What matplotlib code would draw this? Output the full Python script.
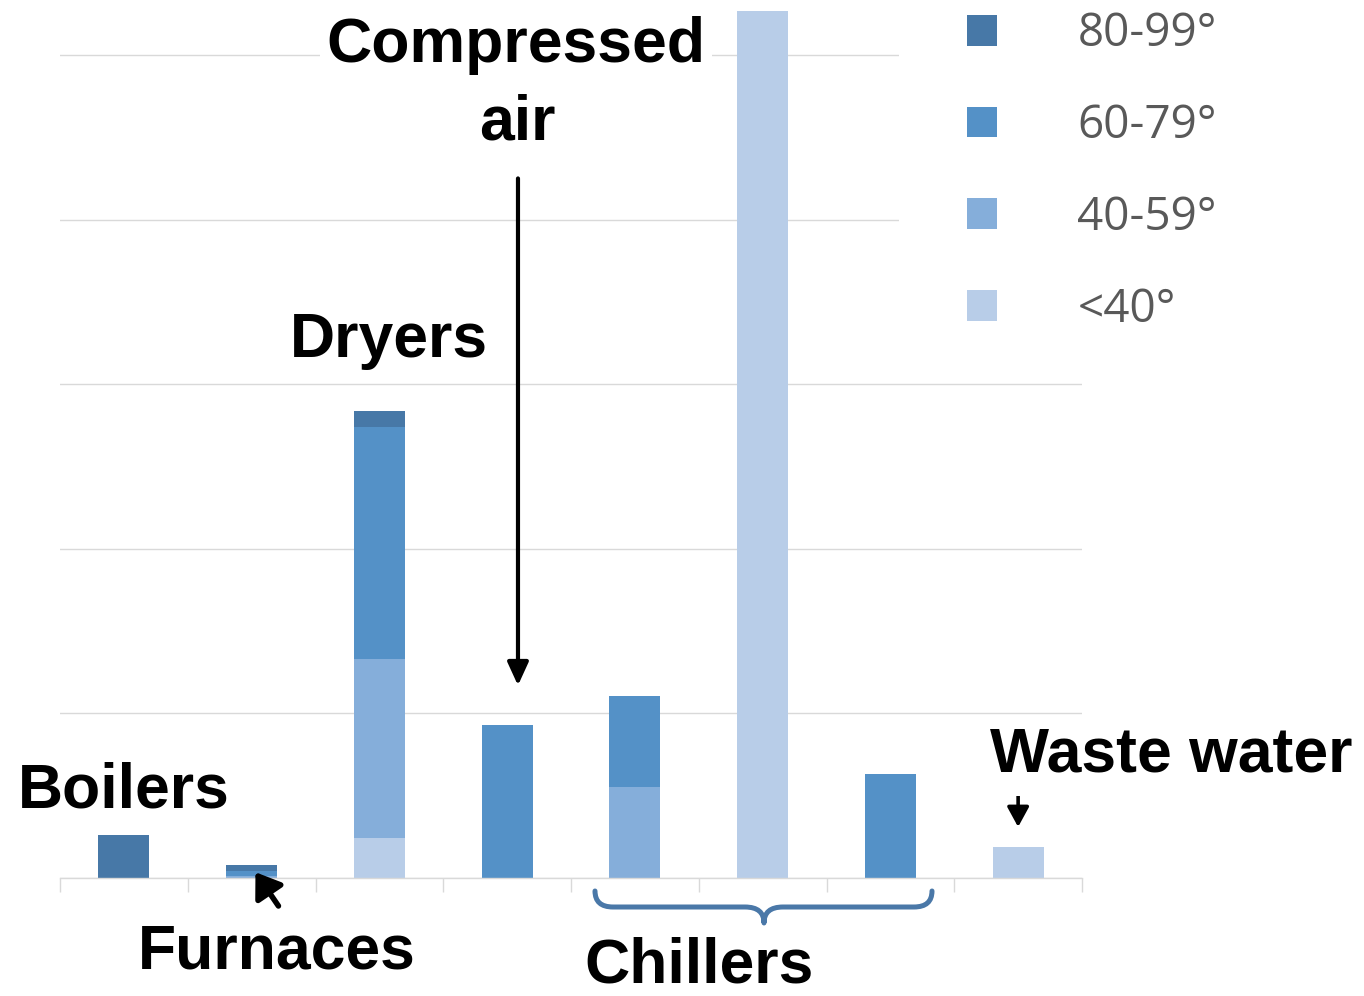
import matplotlib
matplotlib.use("Agg")
import matplotlib.pyplot as plt
from matplotlib.path import Path
from matplotlib.patches import PathPatch, Rectangle
import numpy as np

# ---- data -------------------------------------------------------------
categories = ["Boilers", "Furnaces", "Dryers", "Compressed air",
              "Chiller 1", "Chiller 2", "Chiller 3", "Waste water"]
series_labels = ["<40°", "40-59°", "60-79°", "80-99°"]
below_40 = [0, 0, 24, 0, 0, 527, 0, 19]
t40_59 = [0, 1.5, 109, 0, 55, 0, 0, 0]
t60_79 = [0, 2.5, 141, 93, 55.5, 0, 63, 0]
t80_99 = [26, 4, 10, 0, 0, 0, 0, 0]
grid_ticks = [0, 100, 200, 300, 400, 500]

colors = ["#B8CDE8", "#85AEDA", "#5491C7", "#4778A7"]

# ---- figure -----------------------------------------------------------
W, H, DPI = 1364, 996, 100
fig = plt.figure(figsize=(W / DPI, H / DPI), dpi=DPI)
ax = fig.add_axes([60 / W, 1 - 878 / H, 1022 / W, 878 / H])

x = np.arange(len(categories))
bottom = np.zeros(len(categories))
bars = []
for vals, col, lab in zip([below_40, t40_59, t60_79, t80_99], colors, series_labels):
    b = ax.bar(x, vals, width=0.4, bottom=bottom, color=col, linewidth=0, label=lab, zorder=2)
    bars.append(b)
    bottom = bottom + np.array(vals)

ax.set_xlim(-0.5, len(categories) - 0.5)
ax.set_ylim(0, 533.4)
ax.set_yticks(grid_ticks)
ax.yaxis.grid(True, color="#D9D9D9", linewidth=1.0)
ax.set_axisbelow(True)
ax.tick_params(axis="y", length=0, labelleft=False)
ax.set_xticks(np.arange(-0.5, len(categories), 1.0))
ax.tick_params(axis="x", direction="out", length=10, width=1, color="#D9D9D9", labelbottom=False)
for s in ["top", "right", "left"]:
    ax.spines[s].set_visible(False)
ax.spines["bottom"].set_color("#D9D9D9")
ax.spines["bottom"].set_linewidth(1.0)

# ---- legend -----------------------------------------------------------
# white panel behind the legend area
fig.patches.append(Rectangle((899 / W, 1 - 345 / H), (W - 899) / W, 345 / H,
                             transform=fig.transFigure, facecolor="white",
                             edgecolor="none", zorder=1))
leg = fig.legend(bars[::-1], series_labels[::-1],
                 loc="upper left", bbox_to_anchor=(926 / W, 1 + 30 / H),
                 bbox_transform=fig.transFigure,
                 frameon=False, borderpad=0.9, borderaxespad=0,
                 handlelength=0.655, handleheight=0.655, handletextpad=1.75,
                 labelspacing=1.0, labelcolor="#595959",
                 prop={"family": "Open Sans", "size": 33})
leg.set_zorder(2)

# ---- annotations ------------------------------------------------------
def fx(px):
    return px / W

def fy(py):
    return 1 - py / H

label_font = dict(family="Liberation Sans", weight="bold", size=45, color="black")
white_box = dict(facecolor="white", edgecolor="none", boxstyle="square,pad=0.1")

fig.text(fx(516), fy(62), "Compressed", ha="center", va="baseline", bbox=white_box, **label_font)
fig.text(fx(517), fy(140), "air", ha="center", va="baseline", **label_font)
fig.text(fx(389), fy(357), "Dryers", ha="center", va="baseline", **label_font)
fig.text(fx(124), fy(807), "Boilers", ha="center", va="baseline", **label_font)
fig.text(fx(277), fy(968), "Furnaces", ha="center", va="baseline", **label_font)
fig.text(fx(699), fy(995), "Chillers", ha="center", va="bottom", **label_font)
fig.text(fx(1171), fy(772), "Waste water", ha="center", va="baseline",
         bbox=dict(facecolor="white", edgecolor="none", boxstyle="square,pad=0.17"), **label_font)

# arrows (data coordinates: category index, value)
ax.annotate("", xy=(3.085, t60_79[3] + 24), xytext=(3.085, 425),
            arrowprops=dict(arrowstyle="-|>,head_length=0.7,head_width=0.32", lw=3,
                            color="black", mutation_scale=20, shrinkA=0, shrinkB=0),
            annotation_clip=False)
ax.annotate("", xy=(7.0, below_40[7] + 12), xytext=(7.0, 55.5),
            arrowprops=dict(arrowstyle="-|>,head_length=0.55,head_width=0.3", lw=2.6,
                            color="black", mutation_scale=22, shrinkA=0, shrinkB=0),
            annotation_clip=False)
ax.annotate("", xy=(1.03, 3.5), xytext=(1.21, -17),
            arrowprops=dict(arrowstyle="-|>,head_length=0.65,head_width=0.45", lw=4,
                            color="black", mutation_scale=22, shrinkA=0, shrinkB=0),
            annotation_clip=False)

# curly brace under the chiller group
def px2data(px, py):
    return ((px - 60) / 127.75 - 0.5, (878 - py) / 1.646)

pts = [(595, 891), (595, 907), (613, 907), (745, 907), (764, 907), (764, 923),
       (764, 907), (783, 907), (914, 907), (932, 907), (932, 891)]
codes = [Path.MOVETO, Path.CURVE3, Path.CURVE3, Path.LINETO, Path.CURVE3, Path.CURVE3,
         Path.CURVE3, Path.CURVE3, Path.LINETO, Path.CURVE3, Path.CURVE3]
brace = PathPatch(Path([px2data(*p) for p in pts], codes), facecolor="none",
                  edgecolor="#4A78A8", linewidth=3.6, capstyle="round", joinstyle="round",
                  clip_on=False, zorder=3)
ax.add_patch(brace)

fig.savefig("out.png", dpi=DPI)
